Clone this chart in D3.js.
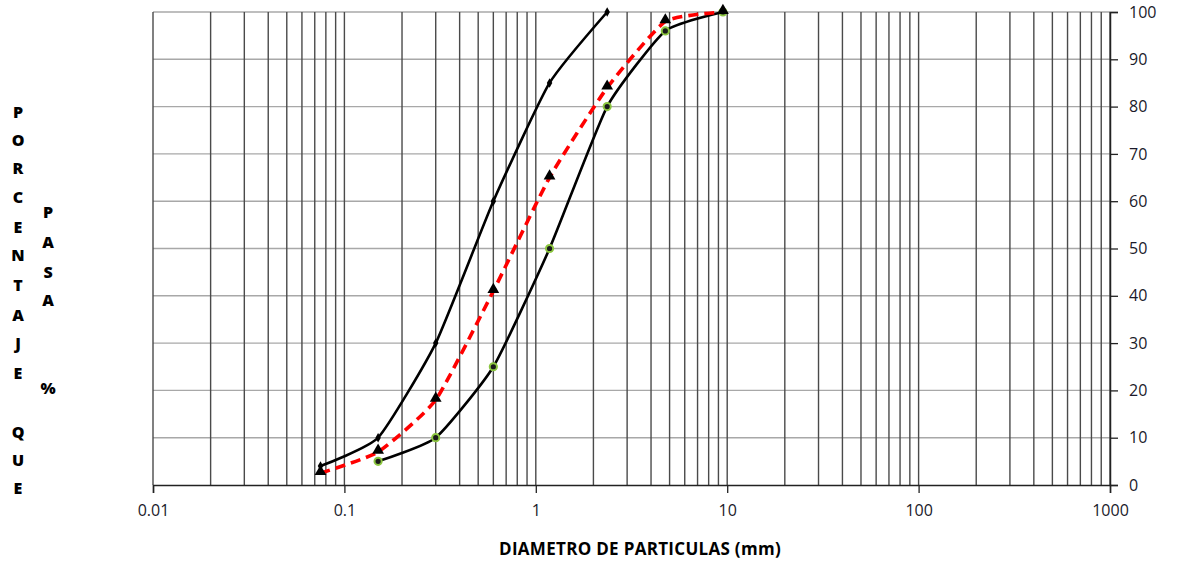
<!DOCTYPE html>
<html>
<head>
<meta charset="utf-8">
<script src="https://d3js.org/d3.v7.min.js"></script>
<style>
  body { margin: 0; background: #fff; }
  svg { display: block; }
</style>
</head>
<body>
<div id="chart"></div>
<script>
// Sieve openings (mm) and percent passing
const sieves = [0.075, 0.15, 0.3, 0.6, 1.18, 2.36, 4.75, 9.5];
const upperLimit = [4, 10, 30, 60, 85, 100, null, null];
const lowerLimit = [null, 5, 10, 25, 50, 80, 96, 100];
const sample = [2.5, 7, 18, 41, 65, 84, 98, 100];

const xTickLabels = ["0.01", "0.1", "1", "10", "100", "1000"];
const yTicks = [0, 10, 20, 30, 40, 50, 60, 70, 80, 90, 100];

const width = 1179;
const height = 561;
const plotLeft = 153, plotRight = 1110, plotTop = 12, plotBottom = 485;

const svg = d3.select("#chart").append("svg")
    .attr("width", width)
    .attr("height", height);

const x = d3.scaleLog().domain([0.01, 1000]).range([plotLeft, plotRight]);
const y = d3.scaleLinear().domain([0, 100]).range([plotBottom, plotTop]);

// minor + major vertical grid values
const gridX = [];
for (let e = -2; e < 3; e++) {
    for (let m = 1; m < 10; m++) gridX.push(m * Math.pow(10, e));
}
gridX.push(1000);

// horizontal gridlines
svg.append("g")
    .selectAll("line")
    .data(yTicks.filter(d => d > 0))
    .enter()
    .append("line")
    .attr("x1", plotLeft).attr("x2", plotRight)
    .attr("y1", d => y(d)).attr("y2", d => y(d))
    .style("stroke", "#a8a8a8")
    .style("stroke-width", 1.4);

// vertical gridlines
svg.append("g")
    .selectAll("line")
    .data(gridX)
    .enter()
    .append("line")
    .attr("x1", d => x(d)).attr("x2", d => x(d))
    .attr("y1", plotTop).attr("y2", plotBottom)
    .style("stroke", "#4a4a4a")
    .style("stroke-width", 1.4);

// x axis
const xAxis = svg.append("g")
    .attr("transform", `translate(0,${plotBottom})`)
    .call(d3.axisBottom(x)
        .tickValues(xTickLabels.map(Number))
        .tickFormat((d, i) => xTickLabels[i])
        .tickSize(8)
        .tickPadding(12));
xAxis.select(".domain").style("stroke", "#222").style("stroke-width", 1.5);
xAxis.selectAll(".tick line").style("stroke", "#222").style("stroke-width", 1.3);
xAxis.selectAll("text")
    .style("font-family", "'Open Sans', sans-serif")
    .style("font-size", "16px")
    .style("fill", "#1a1a2a");

// right y axis
const yAxis = svg.append("g")
    .attr("transform", `translate(${plotRight},0)`)
    .call(d3.axisRight(y).tickValues(yTicks).tickSize(8).tickPadding(11));
yAxis.select(".domain").style("stroke", "#222").style("stroke-width", 1.5);
yAxis.selectAll(".tick line").style("stroke", "#222").style("stroke-width", 1.3);
yAxis.selectAll("text")
    .style("font-family", "'Open Sans', sans-serif")
    .style("font-size", "16px")
    .style("fill", "#1a1a2a");

// build point lists
function points(values) {
    return sieves.map((s, i) => ({ s, v: values[i] })).filter(d => d.v !== null);
}

const line = d3.line()
    .x(d => x(d.s))
    .y(d => y(d.v))
    .curve(d3.curveCardinal.tension(0.5));

const upperPts = points(upperLimit);
const lowerPts = points(lowerLimit);
const samplePts = points(sample);

// lower limit
svg.append("path")
    .attr("d", line(lowerPts))
    .style("fill", "none")
    .style("stroke", "#000")
    .style("stroke-width", 2.6);

// upper limit
svg.append("path")
    .attr("d", line(upperPts))
    .style("fill", "none")
    .style("stroke", "#000")
    .style("stroke-width", 2.6);

// sample curve
svg.append("path")
    .attr("d", line(samplePts))
    .style("fill", "none")
    .style("stroke", "#ff0000")
    .style("stroke-width", 3.6)
    .style("stroke-dasharray", "10,6");

// markers: upper (small black dots)
svg.append("g")
    .selectAll("path")
    .data(upperPts)
    .enter()
    .append("path")
    .attr("transform", d => `translate(${x(d.s)},${y(d.v)})`)
    .attr("d", d3.symbol().type(d3.symbolDiamond).size(26))
    .style("fill", "#000");

// markers: lower (green circles)
svg.append("g")
    .selectAll("circle")
    .data(lowerPts)
    .enter()
    .append("circle")
    .attr("cx", d => x(d.s))
    .attr("cy", d => y(d.v))
    .attr("r", 3.6)
    .style("fill", "#1a1a1a")
    .style("stroke", "#8cc640")
    .style("stroke-width", 2);

// markers: sample (black triangles)
svg.append("g")
    .selectAll("path")
    .data(samplePts)
    .enter()
    .append("path")
    .attr("transform", d => `translate(${x(d.s)},${y(d.v) - 1.5})`)
    .attr("d", d3.symbol().type(d3.symbolTriangle).size(60))
    .style("fill", "#000");

// x axis title
svg.append("text")
    .attr("x", 640)
    .attr("y", 555)
    .attr("text-anchor", "middle")
    .style("font-family", "'Open Sans', sans-serif")
    .style("font-weight", "bold")
    .style("font-size", "17px")
    .style("letter-spacing", "0.3px")
    .style("fill", "#000")
    .text("DIAMETRO DE PARTICULAS (mm)");

// stacked vertical y title
const col1 = "PORCENTAJE QUE".split("");
const col2 = "PASA %".split("");
const col1Y = [112, 140, 168, 197, 227, 255, 285, 315, 343, 373, null, 432, 460, 488];
const col2Y = [212, 242, 272, 300, null, 388];

function stack(chars, ys, cx) {
    svg.append("g")
        .selectAll("text")
        .data(chars.map((c, i) => ({ c, yy: ys[i] })).filter(d => d.c !== " "))
        .enter()
        .append("text")
        .attr("x", cx)
        .attr("y", d => d.yy)
        .attr("dy", "0.35em")
        .attr("text-anchor", "middle")
        .style("font-family", "'Open Sans', sans-serif")
        .style("font-weight", "800")
        .style("font-size", "16px")
        .style("fill", "#000")
        .text(d => d.c);
}
stack(col1, col1Y, 18);
stack(col2, col2Y, 48);
</script>
</body>
</html>
